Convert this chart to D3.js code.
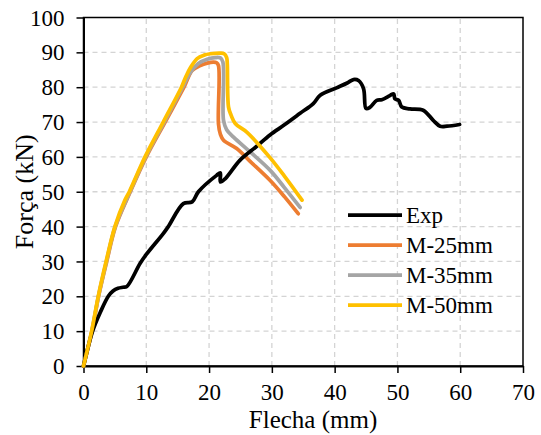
<!DOCTYPE html>
<html>
<head>
<meta charset="utf-8">
<script src="https://cdn.jsdelivr.net/npm/d3@7"></script>
<style>
  body { margin: 0; background: #fff; }
  text { font-family: "Liberation Serif", "Times New Roman", serif; fill: #000; }
</style>
</head>
<body>
<div id="chart"></div>
<script>
// Force-deflection curves (Flecha mm, Força kN)
const expX = [0, 1.45, 2.7, 3.95, 4.7, 5.5, 6.3, 6.9, 9, 10, 12.7, 13.5, 15.9, 17.3, 18.3, 21.2, 21.8, 21.8, 22.6, 24.9, 27.5, 29.7, 32, 34.5, 36.6, 37.7, 40.3, 42, 43, 43.8, 44.6, 45, 45.6, 46.7, 47.5, 48.8, 49.4, 49.6, 50.2, 50.7, 52, 54.1, 55.7, 56.8, 57.9, 59.9];
const expY = [0, 10, 15.5, 20, 21.5, 22.3, 22.6, 22.8, 29.4, 32, 38, 40, 46.6, 47.1, 50, 54.7, 55.4, 52.8, 53.8, 59, 62.9, 66.3, 69.2, 72.5, 75.3, 77.7, 79.8, 81.2, 82.2, 81.9, 79.6, 73.9, 74.2, 76.2, 76.4, 77.6, 78.1, 76.7, 76.2, 74.3, 73.8, 73.4, 70.5, 68.8, 68.8, 69.3];

const m25X = [0, 1.35, 2.4, 3.7, 5.1, 7.45, 10, 13, 16, 17.3, 18.6, 19.7, 20.7, 21.2, 21.5, 21.5, 21.8, 22.3, 24.4, 26.5, 29.7, 32, 34.2];
const m25Y = [0, 10, 20, 30, 40, 50, 60, 70, 80, 84.8, 86.2, 86.9, 87.2, 87, 86.2, 69.5, 66.5, 64.8, 62.4, 58.8, 53.3, 48.6, 43.7];

const m35X = [0, 1.32, 2.38, 3.65, 5.05, 7.4, 9.9, 12.85, 15.8, 17, 18.3, 19.7, 21, 21.8, 22.2, 22.3, 22.8, 23.9, 26.5, 29.7, 32, 34.5];
const m35Y = [0, 10, 20, 30, 40, 50, 60, 70, 80, 84.2, 86.8, 88, 88.5, 88.4, 87.2, 70.5, 67.8, 65.7, 61.5, 56.2, 51.2, 45.5];

const m50X = [0, 1.3, 2.35, 3.6, 5, 6.6, 7.3, 9.8, 12.7, 15.6, 16.3, 17, 18.1, 19.2, 20.2, 21.8, 22.4, 22.8, 22.9, 23.1, 23.5, 24.2, 26, 29.7, 32, 34.8];
const m50Y = [0, 10, 20, 30, 40, 47.6, 50, 60, 70, 80, 83, 85.5, 88.2, 89.2, 89.6, 89.8, 89.6, 88.5, 86.7, 74.3, 72, 69.5, 67.1, 59.8, 54.5, 47.6];

const seriesNames = ["Exp", "M-25mm", "M-35mm", "M-50mm"];
const seriesColors = ["#000000", "#ED7D31", "#A5A5A5", "#FFC000"];
const xTicks = [0, 10, 20, 30, 40, 50, 60, 70];
const yTicks = [0, 10, 20, 30, 40, 50, 60, 70, 80, 90, 100];

const width = 541, height = 435;
const margin = { left: 83.5, right: 18, top: 17.5, bottom: 69 };

const svg = d3.select("#chart").append("svg")
  .attr("width", width)
  .attr("height", height);

const x = d3.scaleLinear().domain([0, 70]).range([margin.left, width - margin.right]);
const y = d3.scaleLinear().domain([0, 100]).range([height - margin.bottom, margin.top]);

// grid
svg.append("g").selectAll("line").data(xTicks.slice(1, -1)).enter().append("line")
  .attr("x1", d => x(d)).attr("x2", d => x(d))
  .attr("y1", y(0)).attr("y2", y(100))
  .attr("stroke", "#d4d4d4").attr("stroke-width", 1.3).attr("stroke-dasharray", "5,4");
svg.append("g").selectAll("line").data(yTicks.slice(1, -1)).enter().append("line")
  .attr("x1", x(0)).attr("x2", x(70))
  .attr("y1", d => y(d)).attr("y2", d => y(d))
  .attr("stroke", "#d4d4d4").attr("stroke-width", 1.3).attr("stroke-dasharray", "5,4");

// frame
svg.append("rect")
  .attr("x", x(0)).attr("y", y(100))
  .attr("width", x(70) - x(0)).attr("height", y(0) - y(100))
  .attr("fill", "none").attr("stroke", "#000").attr("stroke-width", 1.5);

// axes
const xAxis = svg.append("g")
  .attr("transform", "translate(0," + y(0) + ")")
  .call(d3.axisBottom(x).tickValues(xTicks).tickSize(6).tickSizeOuter(0));
const yAxis = svg.append("g")
  .attr("transform", "translate(" + x(0) + ",0)")
  .call(d3.axisLeft(y).tickValues(yTicks).tickSize(6).tickSizeOuter(0));

[xAxis, yAxis].forEach(a => {
  a.select(".domain").attr("stroke", "#000").attr("stroke-width", 2);
  a.selectAll(".tick line").attr("stroke", "#000").attr("stroke-width", 1.5);
  a.selectAll(".tick text").style("font-size", "23px").style("font-family", "Liberation Serif, serif").attr("fill", "#000");
});
xAxis.selectAll(".tick text").attr("dy", "0").attr("y", 34);
xAxis.selectAll(".tick line").attr("y2", 7);
yAxis.selectAll(".tick line").attr("x2", -7);
yAxis.selectAll(".tick text").attr("x", -19).attr("dy", "0.33em");

// axis titles
svg.append("text")
  .attr("x", 313).attr("y", 428)
  .attr("text-anchor", "middle").style("font-size", "25px")
  .text("Flecha (mm)");
svg.append("text")
  .attr("transform", "translate(33," + (y(50)) + ") rotate(-90)")
  .attr("text-anchor", "middle").style("font-size", "26px")
  .text("Força (kN)");

// curves
const lineGen = d3.line().x(d => x(d[0])).y(d => y(d[1])).curve(d3.curveCatmullRom.alpha(0.5));
const data = [
  d3.zip(expX, expY),
  d3.zip(m25X, m25Y),
  d3.zip(m35X, m35Y),
  d3.zip(m50X, m50Y)
];
const drawOrder = [1, 2, 0, 3];
drawOrder.forEach(i => {
  svg.append("path")
    .datum(data[i])
    .attr("d", lineGen)
    .attr("fill", "none")
    .attr("stroke", seriesColors[i])
    .attr("stroke-width", 3.75)
    .attr("stroke-linejoin", "round")
    .attr("stroke-linecap", "round");
});

// legend
const legend = svg.append("g");
seriesNames.forEach((name, i) => {
  const ly = 215 + i * 30;
  legend.append("line")
    .attr("x1", 348).attr("x2", 402)
    .attr("y1", ly).attr("y2", ly)
    .attr("stroke", seriesColors[i]).attr("stroke-width", 3.75);
  legend.append("text")
    .attr("x", 406).attr("y", ly + 8)
    .style("font-size", "23px")
    .text(name);
});
</script>
</body>
</html>
